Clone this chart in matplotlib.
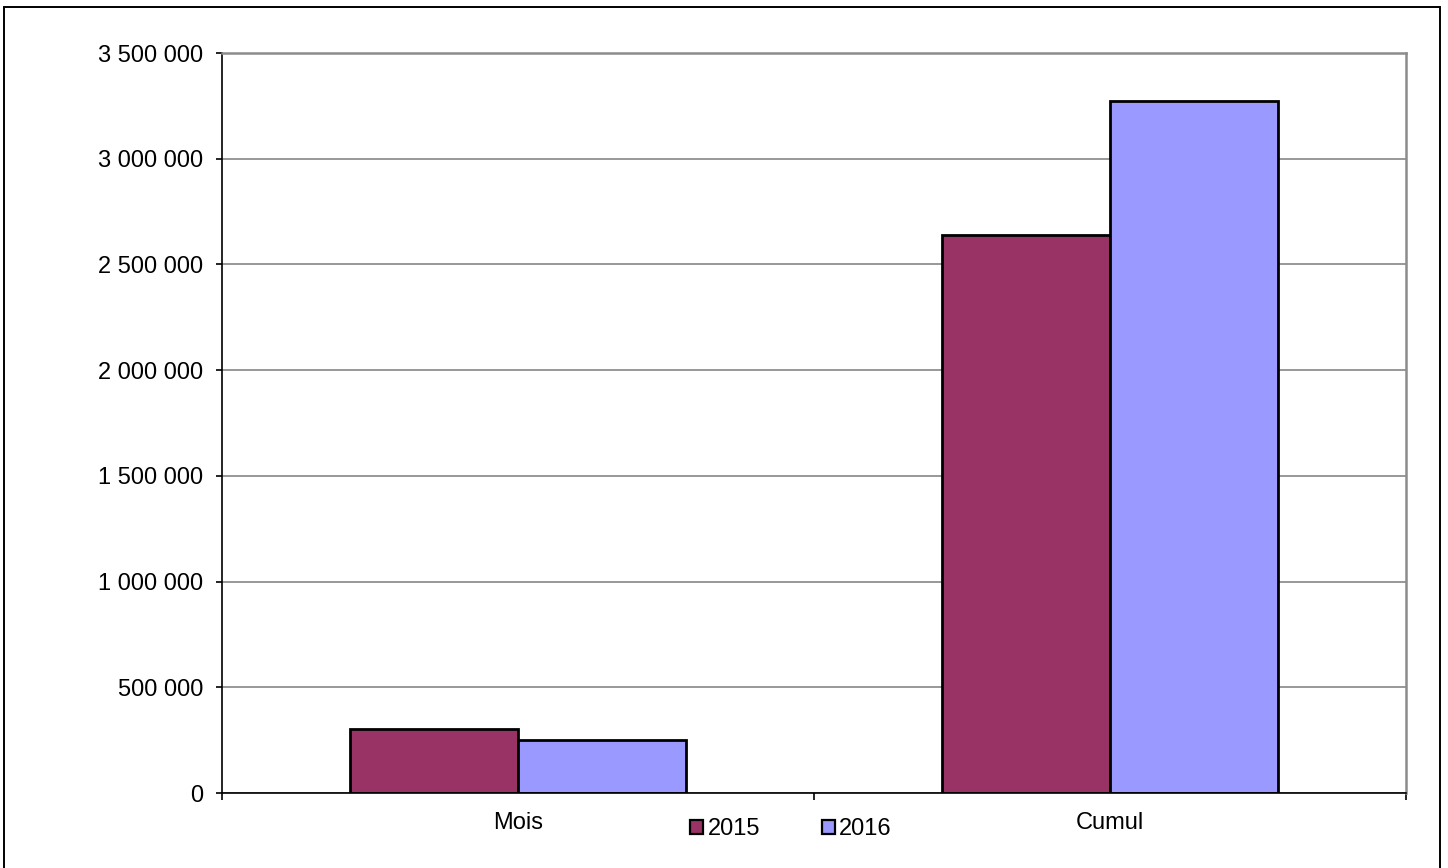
import matplotlib
matplotlib.use("Agg")
import matplotlib.pyplot as plt
import matplotlib.patches as mpatches
from matplotlib.ticker import FuncFormatter, FixedLocator
import numpy as np

# data
categories = ["Mois", "Cumul"]
series_names = ["2015", "2016"]
values_2015 = [303000, 2640000]
values_2016 = [251000, 3273000]
colors = ["#993366", "#9999FF"]

plt.rcParams['font.family'] = ['Liberation Sans', 'DejaVu Sans']

fig = plt.figure(figsize=(14.48, 8.68), dpi=100)
ax = fig.add_axes([222 / 1448, 75 / 868, (1406 - 222) / 1448, (793 - 53) / 868])

x = np.arange(len(categories))
width = 168 / 592

ax.bar(x - width / 2, values_2015, width, color=colors[0], edgecolor="black",
       linewidth=2.0, label=series_names[0], zorder=3)
ax.bar(x + width / 2, values_2016, width, color=colors[1], edgecolor="black",
       linewidth=2.0, label=series_names[1], zorder=3)

ax.set_xlim(-0.5, len(categories) - 0.5)
ax.set_ylim(0, 3500000)
ax.set_yticks(np.arange(0, 3500001, 500000))
ax.yaxis.set_major_formatter(FuncFormatter(lambda v, p: f"{v:,.0f}".replace(",", " ")))

ax.set_xticks(x)
ax.set_xticklabels(categories)
ax.xaxis.set_minor_locator(FixedLocator(np.arange(-0.5, len(categories), 1.0)))
ax.tick_params(axis="x", which="major", length=0, pad=14, labelsize=17)
ax.tick_params(axis="x", which="minor", length=5, width=1.2, color="black", direction="out")
ax.tick_params(axis="y", length=4.5, width=1.2, pad=9, labelsize=17)

ax.yaxis.grid(True, color="#868686", linewidth=1.2, zorder=0)
ax.set_axisbelow(True)

for side in ["left", "bottom"]:
    ax.spines[side].set_color("black")
    ax.spines[side].set_linewidth(1.2)
for side in ["top", "right"]:
    ax.spines[side].set_color("#8c8c8c")
    ax.spines[side].set_linewidth(1.8)
ax.spines["bottom"].set_zorder(4)

leg = fig.legend(loc="center", bbox_to_anchor=(791 / 1448, 1 - 829 / 868), ncol=2,
                 frameon=False, fontsize=17, handlelength=0.55, handleheight=0.55,
                 handletextpad=0.2, columnspacing=2.6)
for h in leg.legend_handles:
    h.set_linewidth(1.6)

# outer chart border
fig.patches.append(mpatches.Rectangle((4 / 1448, -0.02), 1436 / 1448, 1.02 - 7 / 868,
                                      transform=fig.transFigure, fill=False,
                                      edgecolor="black", linewidth=1.4))

fig.savefig("out.png", dpi=100)
